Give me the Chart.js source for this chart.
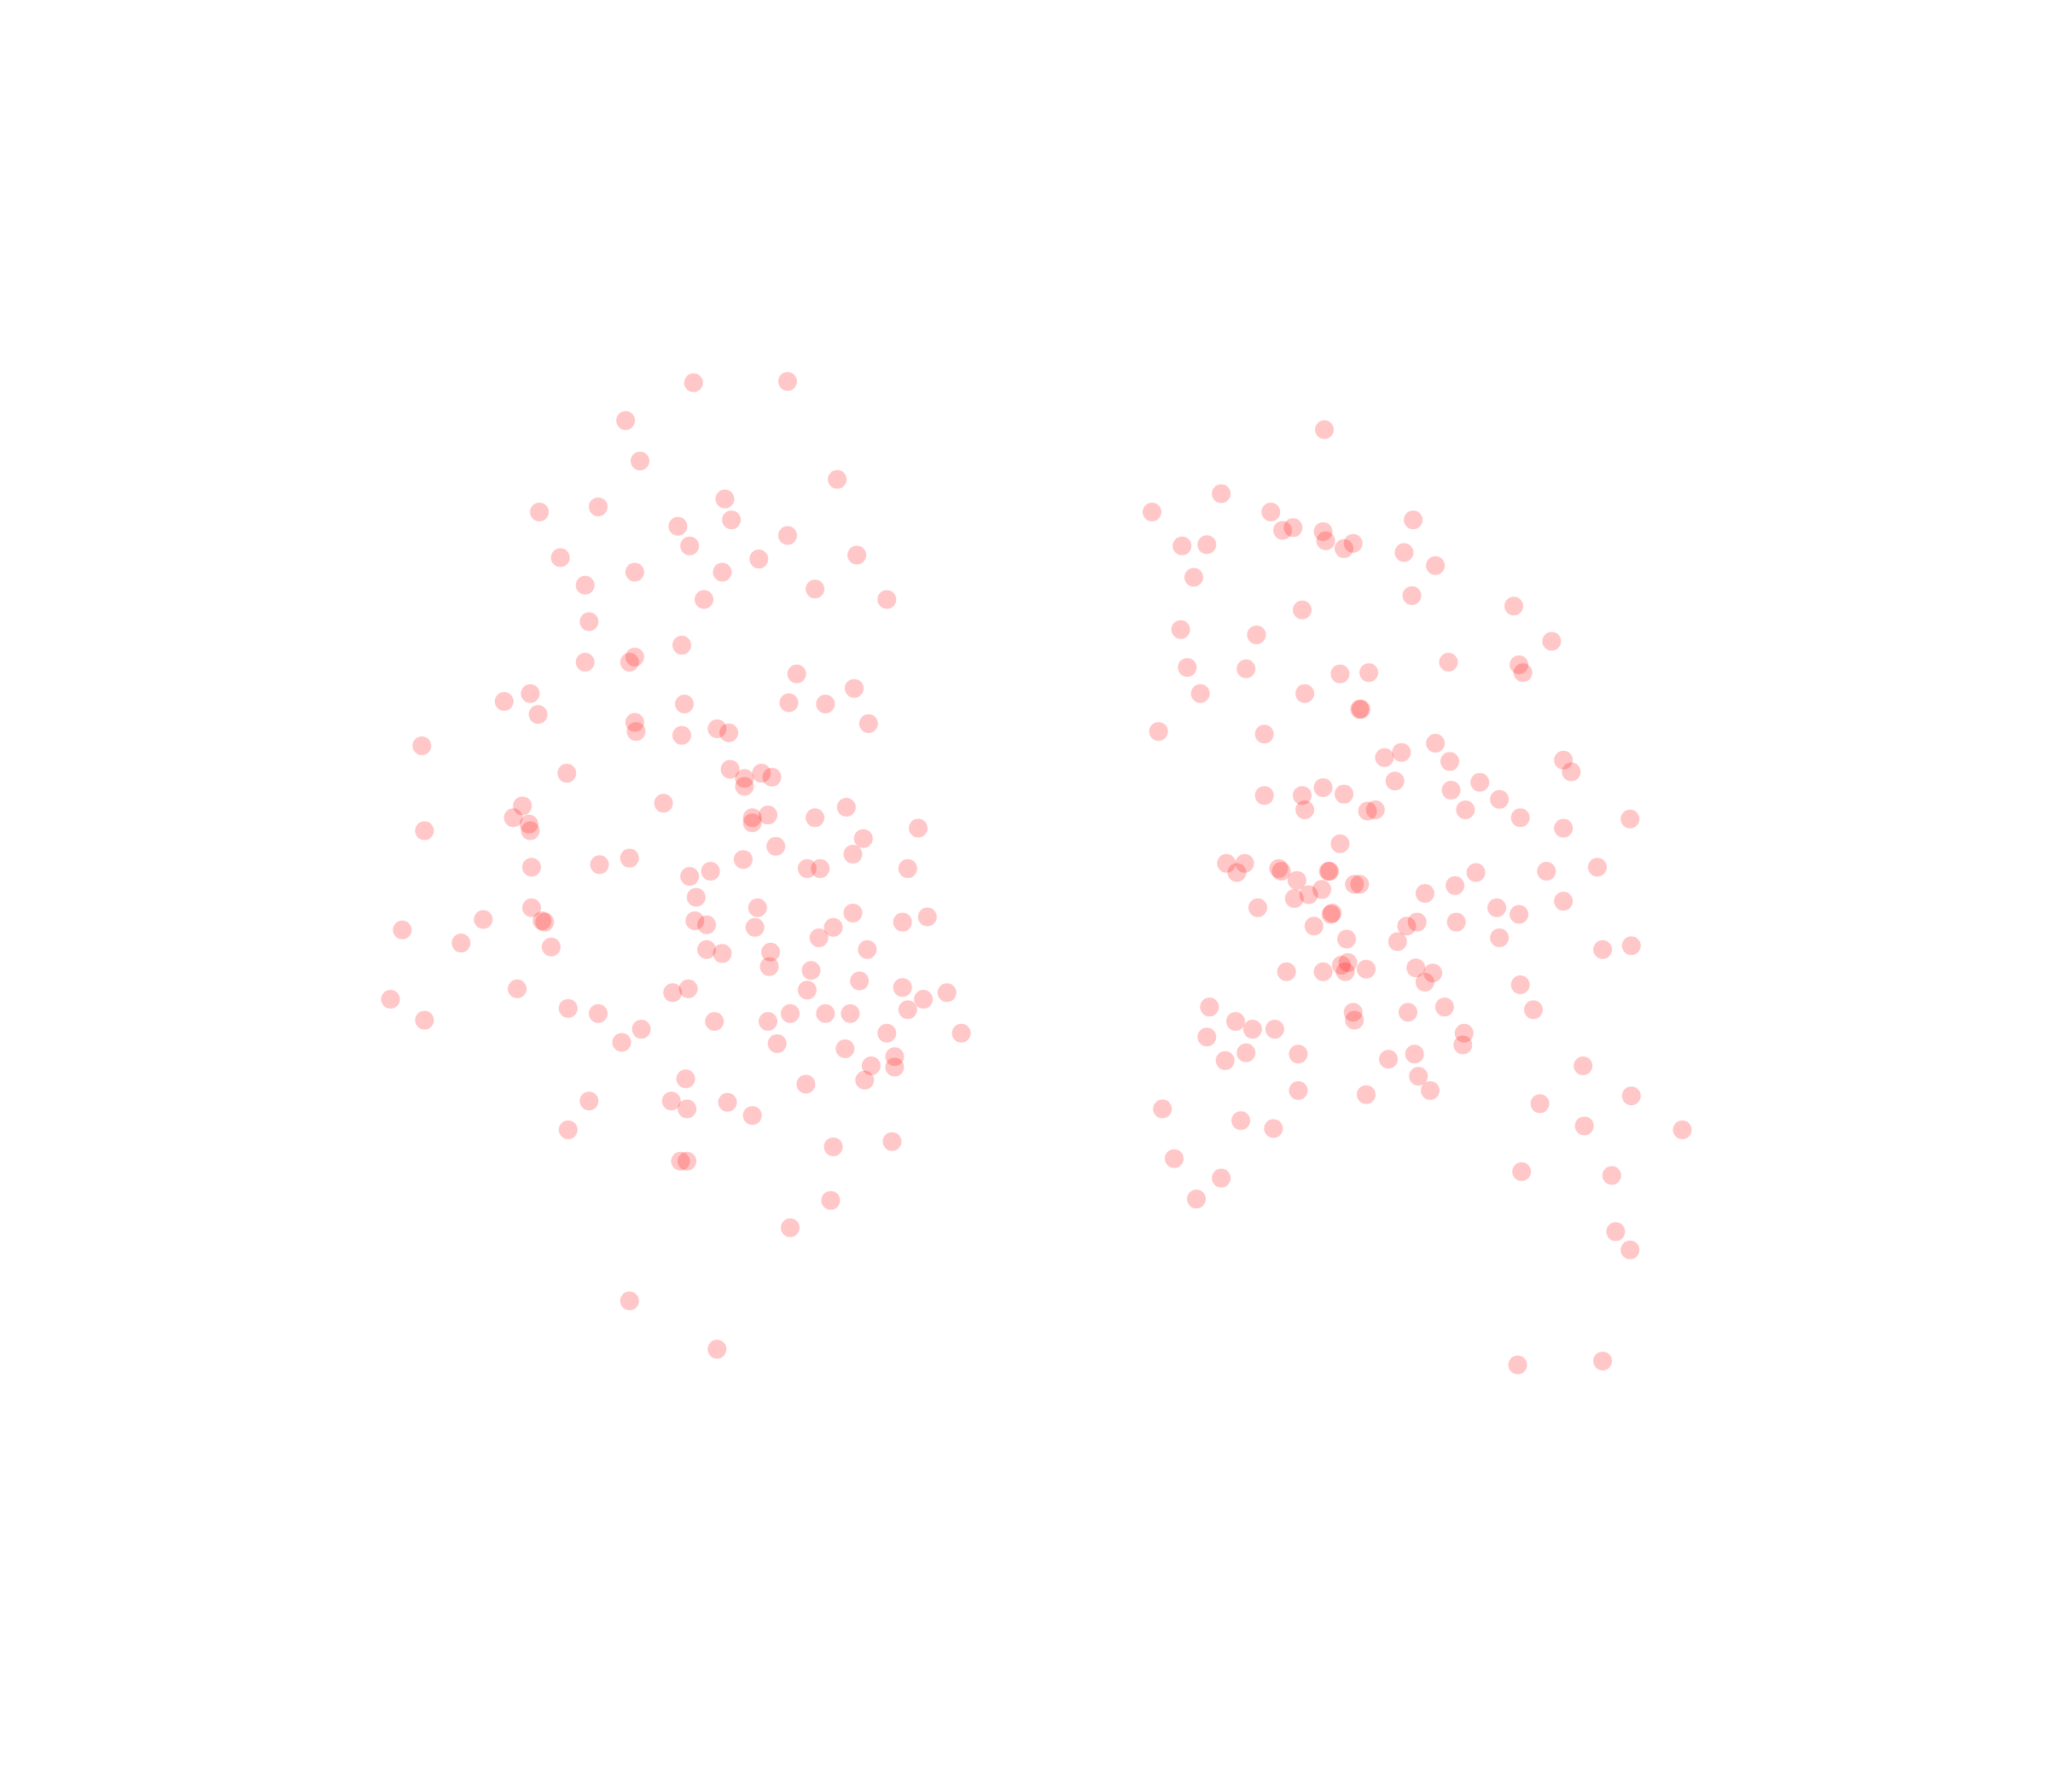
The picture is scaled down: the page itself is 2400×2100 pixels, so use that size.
<!DOCTYPE html>
<html>
<head>
<meta charset="utf-8">
<title>Scatter</title>
<style>
    html, body { margin: 0; padding: 0; background: #ffffff; }
    canvas { display: block; }
</style>
<script src="https://cdn.jsdelivr.net/npm/chart.js@4/dist/chart.umd.min.js"></script>
</head>
<body>
<canvas id="scatter" width="2400" height="2100"></canvas>
<script>
const leftX = [531,603,479,490,641,555,458,413,560,519,603,528,656,429,581,486,553,448,624,539,679,451,522,486,482,448,610,654,406,386,524,604,632,412,486,487,549,558,522,665,323,559,434,583,570,591,570,508,400,648,393,576,588,624,576,405,406,325,703,661,594,653,482,569,459,407,618,628,695,544,528,533,407,580,653,710,370,415,417,532,541,691,638,578,308,627,353,422,541,553,664,590,589,621,658,396,515,527,618,691,725,707,299,435,458,605,632,651,695,325,547,588,491,679,736,476,595,647,685,667,685,662,525,617,451,514,557,526,576,435,683,638,521,526,636,605,482,549];
const leftY = [293,292,322,353,367,382,388,392,398,403,410,418,425,427,428,438,438,448,451,459,459,476,494,503,507,507,516,527,531,537,539,538,539,547,553,560,558,561,563,554,571,589,592,592,596,595,602,615,617,618,626,626,624,626,630,631,636,636,634,642,648,654,657,658,662,664,665,665,665,667,671,687,695,695,699,702,704,705,706,705,708,706,710,710,712,718,722,725,727,730,727,729,740,743,751,757,760,757,758,756,760,765,765,772,776,776,776,776,773,781,782,782,788,791,791,798,799,803,809,816,817,827,826,830,843,843,844,849,854,865,874,878,889,889,919,940,996,1033];

const rightX = [1014,935,882,973,1082,990,982,1013,1015,1036,1029,905,924,1075,1099,914,1081,1159,997,904,962,1188,1109,1163,1166,954,909,1026,1048,919,999,1041,1042,887,968,1099,1073,1060,1110,1197,1203,1068,1133,1013,1111,968,997,1029,1148,1122,999,1047,1053,1164,1248,1197,1026,939,953,979,981,947,1017,1018,1130,1184,1223,993,1037,1041,1012,1114,1091,1002,991,1197,963,1146,1163,1020,1019,1085,1115,1006,1077,1148,1031,1070,1227,1249,1027,1032,1030,1046,1084,985,1013,1097,1091,1164,926,1106,1174,1036,1078,1037,946,959,976,924,1121,1120,954,994,1083,1063,938,1212,1086,994,1095,1046,1249,1179,890,950,1213,975,1288,899,1165,1234,935,916,1237,1248,1162,1227];
const rightY = [329,378,392,392,398,404,406,407,414,416,420,418,417,423,433,442,456,464,467,482,486,491,507,509,515,512,511,516,515,531,531,543,543,560,562,569,576,580,583,582,591,598,599,603,605,609,609,608,612,620,620,621,620,626,627,634,646,661,661,665,667,668,667,667,668,667,664,674,677,677,681,678,684,685,688,690,695,695,700,699,700,706,706,709,709,718,719,721,727,724,739,737,744,742,741,744,744,745,752,754,771,771,773,775,775,781,782,788,788,794,791,800,806,807,807,811,812,816,824,835,835,838,839,845,849,858,862,864,865,887,897,900,902,918,943,957,1045,1042];

function toPoints(xs, ys) {
    return xs.map((x, i) => ({ x: x, y: ys[i] }));
}

const ctx = document.getElementById('scatter').getContext('2d');
const scatterChart = new Chart(ctx, {
    type: 'scatter',
    data: {
        datasets: [{
            label: 'left',
            data: toPoints(leftX, leftY),
            pointBackgroundColor: 'rgba(255, 0, 0, 0.22)',
            pointBorderWidth: 0,
            pointRadius: 11
        }, {
            label: 'right',
            data: toPoints(rightX, rightY),
            pointBackgroundColor: 'rgba(255, 0, 0, 0.22)',
            pointBorderWidth: 0,
            pointRadius: 11
        }]
    },
    options: {
        responsive: false,
        animation: false,
        layout: {
            autoPadding: false,
            padding: 0
        },
        plugins: {
            legend: {
                display: false
            },
            tooltip: {
                enabled: false
            }
        },
        scales: {
            x: {
                display: false,
                min: 0,
                max: 1568
            },
            y: {
                display: false,
                reverse: true,
                min: 0,
                max: 1372
            }
        }
    }
});
</script>
</body>
</html>
